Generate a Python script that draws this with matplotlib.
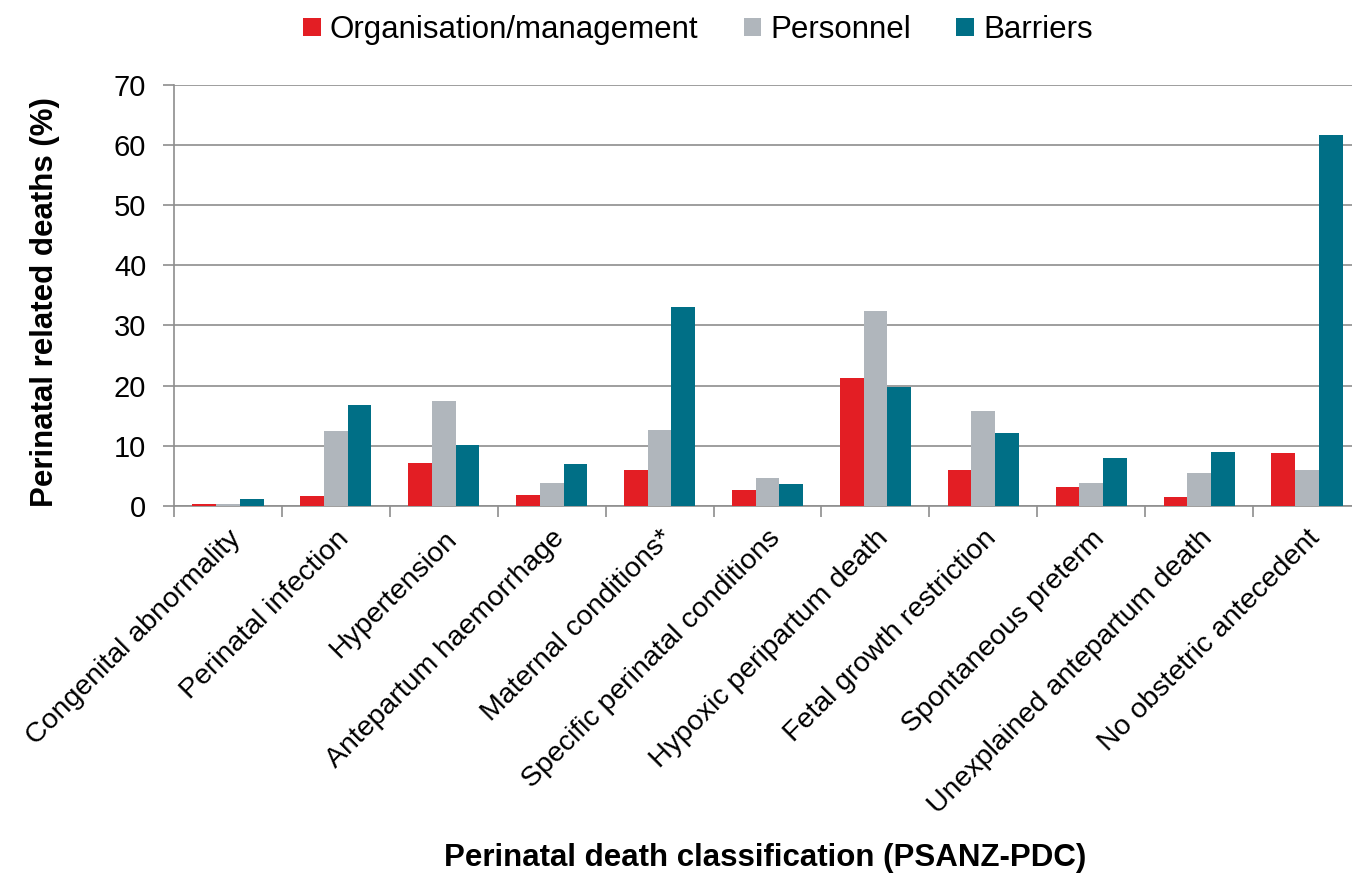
import matplotlib
matplotlib.use("Agg")
import matplotlib.pyplot as plt
import numpy as np
from matplotlib.patches import Patch

plt.rcParams['font.family'] = ['Liberation Sans', 'DejaVu Sans']

categories = ["Congenital abnormality", "Perinatal infection", "Hypertension",
              "Antepartum haemorrhage", "Maternal conditions*",
              "Specific perinatal conditions", "Hypoxic peripartum death",
              "Fetal growth restriction", "Spontaneous preterm",
              "Unexplained antepartum death", "No obstetric antecedent"]
organisation = [0.3, 1.7, 7.2, 1.9, 6.0, 2.7, 21.2, 6.0, 3.2, 1.5, 8.8]
personnel = [0.4, 12.5, 17.4, 3.9, 12.6, 4.6, 32.4, 15.7, 3.9, 5.4, 5.9]
barriers = [1.1, 16.7, 10.1, 7.0, 33.0, 3.7, 19.7, 12.1, 8.0, 9.0, 61.7]
series_names = ["Organisation/management", "Personnel", "Barriers"]
colors = ["#E31E24", "#B0B6BC", "#006F86"]
yticks = [0, 10, 20, 30, 40, 50, 60, 70]

W, H = 1352, 874
fig = plt.figure(figsize=(W / 100, H / 100), dpi=100)
ax = fig.add_axes([174 / W, (H - 506) / H, 1187 / W, 421.4 / H])

x = np.arange(len(categories))
bw = 0.22
for i, (vals, c) in enumerate(zip([organisation, personnel, barriers], colors)):
    ax.bar(x + (i - 1) * bw, vals, width=bw, color=c, zorder=3, linewidth=0)

ax.set_xlim(-0.5, len(categories) - 0.5)
ax.set_ylim(0, 70)
ax.set_yticks(yticks)
ax.set_yticklabels([str(v) for v in yticks], fontsize=21)
ax.yaxis.grid(True, color="#8E8E8E", linewidth=1.2, zorder=0)
ax.set_axisbelow(True)

ax.set_xticks(np.arange(-0.5, len(categories) - 0.5 + 0.01, 1.0))
ax.set_xticklabels([])
ax.set_xticks(x, minor=True)
ax.set_xticklabels(categories, minor=True, rotation=45, ha='right',
                   rotation_mode='anchor', fontsize=20.5)
ax.tick_params(axis='x', which='minor', length=0, pad=14)
ax.tick_params(axis='x', which='major', length=8, width=1.2, color="#8E8E8E", direction='out')
ax.tick_params(axis='y', length=8, width=1.2, color="#8E8E8E", direction='out', pad=12)

for s in ['top', 'right']:
    ax.spines[s].set_visible(False)
ax.spines['left'].set_color("#8E8E8E")
ax.spines['left'].set_linewidth(1.2)
ax.spines['bottom'].set_color("#8E8E8E")
ax.spines['bottom'].set_linewidth(1.2)

fig.text(45 / W, 1 - 302 / H, "Perinatal related deaths (%)", rotation=90,
         ha='center', va='center', fontsize=22.5, fontweight='bold')
fig.text(765 / W, 1 - 858 / H, "Perinatal death classification (PSANZ-PDC)",
         ha='center', va='center', fontsize=22.5, fontweight='bold')

handles = [Patch(facecolor=c, edgecolor='none') for c in colors]
fig.legend(handles, series_names, loc='center', bbox_to_anchor=(698 / W, 1 - 30 / H),
           ncol=3, frameon=False, fontsize=22.5, handlelength=0.55, handleheight=0.55,
           handletextpad=0.3, columnspacing=1.45)

fig.savefig("out.png", dpi=100)
